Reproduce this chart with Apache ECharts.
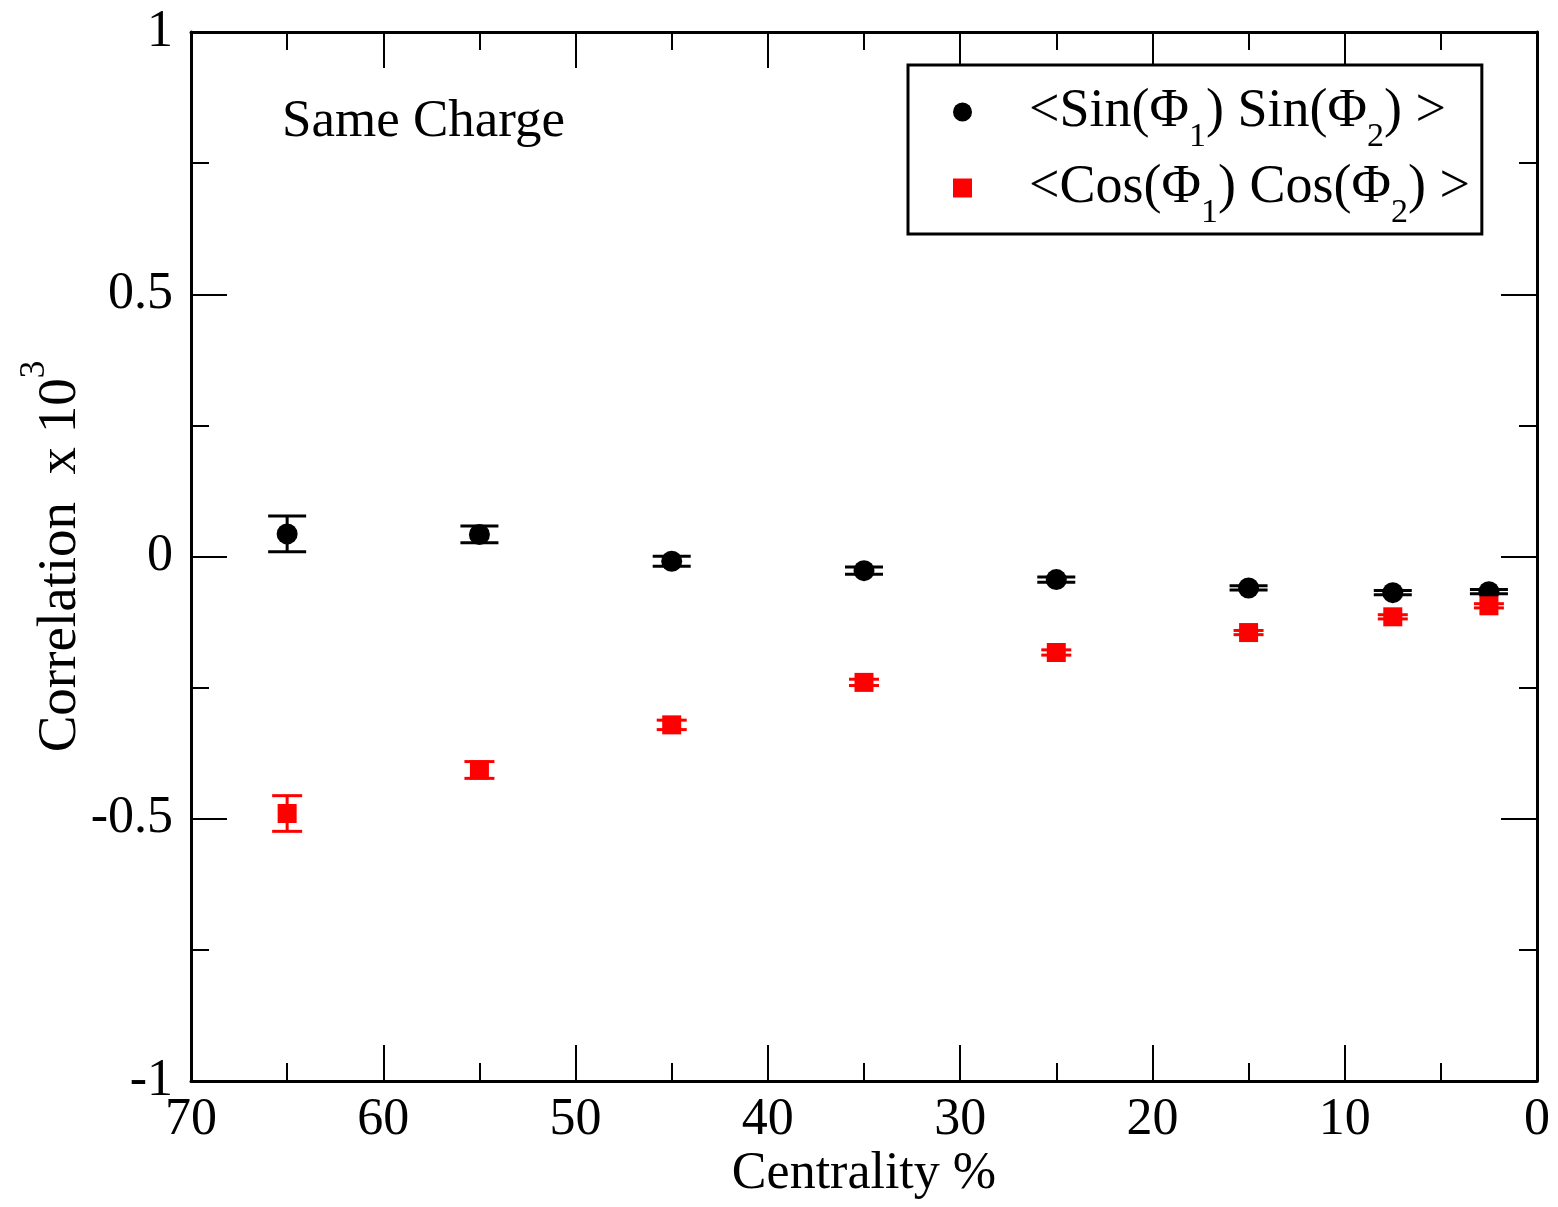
<!DOCTYPE html>
<html>
<head>
<meta charset="utf-8">
<script src="https://cdn.jsdelivr.net/npm/echarts@6/dist/echarts.min.js"></script>
<style>
  html, body { margin: 0; padding: 0; background: #fff; }
  #chart { width: 1558px; height: 1207px; }
</style>
</head>
<body>
<div id="chart"></div>
<script>
// Centrality bins (%) and two-particle correlations (x 10^3) with statistical errors
const centrality = [65, 55, 45, 35, 25, 15, 7.5, 2.5];
const sinValues = [0.043, 0.042, -0.009, -0.027, -0.044, -0.060, -0.069, -0.067];
const sinErrors = [0.034, 0.016, 0.0095, 0.007, 0.005, 0.004, 0.004, 0.004];
const cosValues = [-0.490, -0.407, -0.321, -0.240, -0.183, -0.145, -0.115, -0.094];
const cosErrors = [0.034, 0.016, 0.009, 0.006, 0.005, 0.004, 0.004, 0.004];

const xTicks = { min: 0, max: 70, interval: 10 };
const yTicks = { min: -1, max: 1, interval: 0.5 };

const FONT = '"Liberation Serif", "DejaVu Serif", serif';
const FS = 52;

function points(vals) { return centrality.map((c, i) => [c, vals[i]]); }
function errPoints(vals, errs) { return centrality.map((c, i) => [c, vals[i], errs[i]]); }

function errorBarRenderer(color, capHalf) {
  return function (params, api) {
    const x = api.value(0), y = api.value(1), e = api.value(2);
    const hi = api.coord([x, y + e]);
    const lo = api.coord([x, y - e]);
    const style = { stroke: color, lineWidth: 3 };
    return {
      type: 'group',
      children: [
        { type: 'line', shape: { x1: hi[0], y1: hi[1], x2: lo[0], y2: lo[1] }, style },
        { type: 'line', shape: { x1: hi[0] - capHalf, y1: hi[1], x2: hi[0] + capHalf, y2: hi[1] }, style },
        { type: 'line', shape: { x1: lo[0] - capHalf, y1: lo[1], x2: lo[0] + capHalf, y2: lo[1] }, style }
      ]
    };
  };
}

const axisLine = { show: true, onZero: false, lineStyle: { color: '#000', width: 3 } };
const axisTick = { show: true, inside: true, length: 36, lineStyle: { color: '#000', width: 2 } };
const minorTick = { show: true, splitNumber: 2, length: 18, lineStyle: { color: '#000', width: 2 } };

const legendText = {
  sin: '{m|<Sin(Φ}{s|1}{m|) Sin(Φ}{s|2}{m|) >}',
  cos: '{m|<Cos(Φ}{s|1}{m|) Cos(Φ}{s|2}{m|) >}'
};

const chart = echarts.init(document.getElementById('chart'), null, { renderer: 'canvas' });
chart.setOption({
  backgroundColor: '#fff',
  animation: false,
  grid: { left: 191, right: 21, top: 32, bottom: 126, containLabel: false, outerBoundsMode: 'none' },
  xAxis: [
    {
      type: 'value', inverse: true, min: xTicks.min, max: xTicks.max, interval: xTicks.interval,
      name: 'Centrality %', nameLocation: 'middle', nameGap: 67, nameMoveOverlap: false,
      nameTextStyle: { fontFamily: FONT, fontSize: FS, color: '#000' },
      axisLine, axisTick, minorTick, splitLine: { show: false },
      axisLabel: { fontFamily: FONT, fontSize: FS, color: '#000', margin: 13 }
    },
    {
      type: 'value', inverse: true, position: 'top', min: xTicks.min, max: xTicks.max, interval: xTicks.interval,
      axisLine, axisTick, minorTick, splitLine: { show: false }, axisLabel: { show: false }
    }
  ],
  yAxis: [
    {
      type: 'value', min: yTicks.min, max: yTicks.max, interval: yTicks.interval,
      name: '{m|Correlation  x 10}{p|3}', nameLocation: 'middle', nameGap: 100, nameRotate: 90,
      nameMoveOverlap: false,
      nameTextStyle: {
        fontFamily: FONT, fontSize: 55, color: '#000',
        rich: {
          m: { fontFamily: FONT, fontSize: 55, color: '#000', lineHeight: 60 },
          p: { fontFamily: FONT, fontSize: 35, color: '#000', lineHeight: 60, verticalAlign: 'middle', padding: [0, 0, 52, 0] }
        }
      },
      axisLine, axisTick, minorTick, splitLine: { show: false },
      axisLabel: { fontFamily: FONT, fontSize: FS, color: '#000', margin: 18 }
    },
    {
      type: 'value', position: 'right', min: yTicks.min, max: yTicks.max, interval: yTicks.interval,
      axisLine, axisTick, minorTick, splitLine: { show: false }, axisLabel: { show: false }
    }
  ],
  legend: {
    orient: 'vertical', left: 908, top: 65,
    data: [{ name: 'sin', icon: 'circle' }, { name: 'cos', icon: 'rect' }],
    itemWidth: 19, itemHeight: 19, itemGap: -8,
    padding: [5, 12, 4, 45],
    borderColor: '#000', borderWidth: 3, backgroundColor: '#fff',
    formatter: name => legendText[name],
    textStyle: {
      padding: [0, 0, 0, 52],
      rich: {
        m: { fontFamily: FONT, fontSize: 54, color: '#000', lineHeight: 60 },
        s: { fontFamily: FONT, fontSize: 34, color: '#000', lineHeight: 60, verticalAlign: 'middle', padding: [50, 0, 0, 0] }
      }
    }
  },
  graphic: [
    {
      type: 'text', left: 282, top: 96,
      style: { text: 'Same Charge', fontFamily: FONT, fontSize: 53, fill: '#000' }
    }
  ],
  series: [
    {
      type: 'custom', name: 'sinErr', data: errPoints(sinValues, sinErrors),
      renderItem: errorBarRenderer('#000', 19), encode: { x: 0, y: 1 }, silent: true
    },
    {
      type: 'scatter', name: 'sin', data: points(sinValues),
      symbol: 'circle', symbolSize: 21, itemStyle: { color: '#000', opacity: 1 }
    },
    {
      type: 'custom', name: 'cosErr', data: errPoints(cosValues, cosErrors),
      renderItem: errorBarRenderer('#ff0000', 15), encode: { x: 0, y: 1 }, silent: true
    },
    {
      type: 'scatter', name: 'cos', data: points(cosValues),
      symbol: 'rect', symbolSize: 19, itemStyle: { color: '#ff0000', opacity: 1 }
    }
  ]
});
</script>
</body>
</html>
